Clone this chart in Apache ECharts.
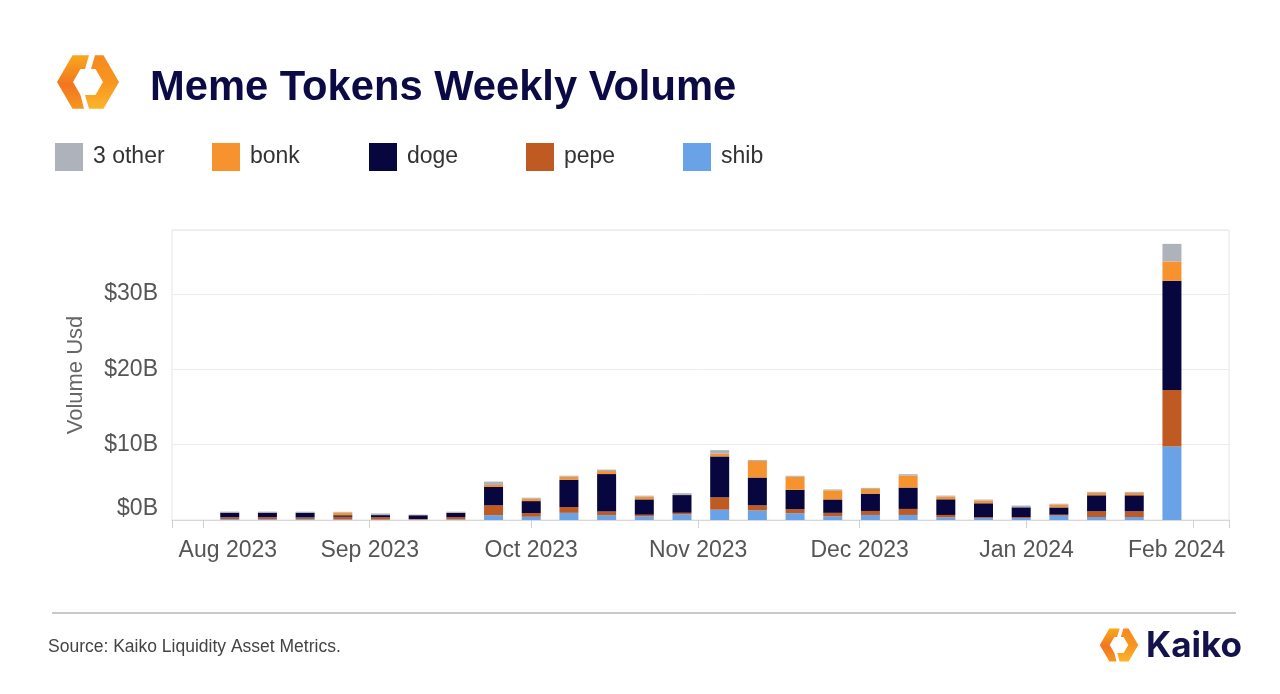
<!DOCTYPE html>
<html>
<head>
<meta charset="utf-8">
<script src="https://cdn.jsdelivr.net/npm/echarts@6/dist/echarts.min.js"></script>
<style>
html,body{margin:0;padding:0;background:#fff;}
#chart{width:1280px;height:694px;}
</style>
</head>
<body>
<div id="chart"></div>
<script>
// ---- data ----
const weeks = ['2023-08-06','2023-08-13','2023-08-20','2023-08-27','2023-09-03','2023-09-10','2023-09-17',
  '2023-09-24','2023-10-01','2023-10-08','2023-10-15','2023-10-22','2023-10-29','2023-11-05','2023-11-12',
  '2023-11-19','2023-11-26','2023-12-03','2023-12-10','2023-12-17','2023-12-24','2023-12-31','2024-01-07',
  '2024-01-14','2024-01-21','2024-01-28'];
const shib  = [0.12,0.12,0.12,0.08,0.05,0.05,0.10, 0.64,0.43,0.95,0.64,0.47,0.73,1.37,1.27,0.90,0.50,0.67,0.67,0.35,0.27,0.27,0.57,0.40,0.40,9.76];
const pepe  = [0.25,0.27,0.22,0.35,0.30,0.08,0.30, 1.30,0.48,0.75,0.49,0.23,0.23,1.64,0.67,0.53,0.45,0.53,0.80,0.32,0.13,0.13,0.13,0.75,0.75,7.50];
const doge  = [0.60,0.58,0.62,0.20,0.30,0.50,0.55, 2.44,1.60,3.65,4.97,2.04,2.35,5.43,3.70,2.58,1.78,2.30,2.84,2.08,1.82,1.28,0.97,2.13,2.13,14.50];
const bonk  = [0.02,0.02,0.02,0.35,0.02,0.02,0.05, 0.27,0.30,0.40,0.40,0.36,0.02,0.36,2.20,1.73,1.20,0.63,1.60,0.36,0.36,0.02,0.36,0.32,0.32,2.56];
const other = [0.12,0.12,0.12,0.10,0.20,0.07,0.10, 0.45,0.15,0.13,0.19,0.13,0.23,0.48,0.13,0.13,0.13,0.13,0.17,0.13,0.13,0.22,0.13,0.13,0.13,2.34];
const seriesNames = ['shib','pepe','doge','bonk','3 other'];
const legendOrder = ['3 other','bonk','doge','pepe','shib'];
const yTicks = [0,10,20,30];
const monthNames = ['Jan','Feb','Mar','Apr','May','Jun','Jul','Aug','Sep','Oct','Nov','Dec'];

const colors = {'shib':'#6aa2e8','pepe':'#bf5a22','doge':'#08063f','bonk':'#f6932f','3 other':'#adb2bb'};
const values = {'shib':shib,'pepe':pepe,'doge':doge,'bonk':bonk,'3 other':other};

const ts = weeks.map(w => Date.parse(w + 'T00:00:00Z'));
const xMin = Date.UTC(2023,6,28,1);
const xMax = Date.UTC(2024,1,5,20);
const DAY = 86400000;
const FONT = 'Liberation Sans, Arial, Helvetica, sans-serif';

const chart = echarts.init(document.getElementById('chart'));

// logo pieces (hexagon split in two)
const leftPiece = [[1,-26.8],[-15.5,-26.8],[-31,0],[-15.5,26.8],[-4,26.8],[-7.5,13],[-15,0],[-7.5,-13],[-3,-13]];
const rightPiece = [[7,-26.8],[15.5,-26.8],[31,0],[15.5,26.8],[1,26.8],[-3,13],[7.5,13],[15,0],[7.5,-13],[3,-13]];
function logo(cx, cy, s) {
  const g1 = new echarts.graphic.LinearGradient(0,0,0,1,[{offset:0,color:'#f9a81d'},{offset:0.55,color:'#f27520'},{offset:1,color:'#f7961f'}]);
  const g2 = new echarts.graphic.LinearGradient(0,0,0,1,[{offset:0,color:'#f68a1f'},{offset:0.5,color:'#f7951f'},{offset:1,color:'#fbb42c'}]);
  return [
    {type:'polygon', x:cx, y:cy, scaleX:s, scaleY:s, shape:{points:leftPiece}, style:{fill:g1}},
    {type:'polygon', x:cx, y:cy, scaleX:s, scaleY:s, shape:{points:rightPiece}, style:{fill:g2}}
  ];
}

const legendLefts = [55,212,369,526,683];

const option = {
  useUTC: true,
  animation: false,
  backgroundColor: '#ffffff',
  title: {
    text: 'Meme Tokens Weekly Volume',
    left: 145, top: 63,
    textStyle: {fontFamily:FONT, fontSize:41.7, fontWeight:'bold', color:'#0b0a45'}
  },
  legend: legendOrder.map((name, i) => ({
    data: [name],
    left: legendLefts[i], top: 143,
    padding: 0,
    icon: 'rect',
    itemWidth: 28, itemHeight: 28,
    textStyle: {fontFamily:FONT, fontSize:23, color:'#333', padding:[8,0,0,5]}
  })),
  grid: {left:172, right:51, top:230, bottom:174, show:true, borderColor:'#e4e4e4', borderWidth:1},
  xAxis: {
    type: 'time',
    min: xMin, max: xMax,
    splitNumber: 7,
    minInterval: 28*DAY,
    axisLine: {lineStyle:{color:'#d8d8d8'}},
    axisTick: {show:true, length:8, lineStyle:{color:'#d0d0d0'}},
    splitLine: {show:false},
    axisLabel: {
      margin: 19,
      fontFamily:FONT, fontSize:23, color:'#555',
      showMinLabel: true, showMaxLabel: true,
      formatter: function (v) {
        const d = new Date(v);
        if (d.getUTCDate() !== 1) return '';
        const s = monthNames[d.getUTCMonth()] + ' ' + d.getUTCFullYear();
        if (v - xMin < 15*DAY) return '{first|' + s + '}';
        if (xMax - v < 15*DAY) return '{last|' + s + '}';
        return s;
      },
      rich: {
        first: {padding:[0,0,0,50], fontFamily:FONT, fontSize:23, color:'#555'},
        last: {padding:[0,34,0,0], fontFamily:FONT, fontSize:23, color:'#555'}
      }
    }
  },
  yAxis: {
    type: 'value',
    min: 0, max: 38.5, interval: 10,
    name: 'Volume Usd',
    nameLocation: 'middle',
    nameRotate: 90,
    nameGap: 85,
    nameTextStyle: {fontFamily:FONT, fontSize:22, color:'#666'},
    axisLine: {show:false},
    axisTick: {show:false},
    splitLine: {lineStyle:{color:'#ececec'}},
    axisLabel: {
      margin: 14,
      fontFamily:FONT, fontSize:23, color:'#555',
      formatter: function (v) {
        if (yTicks.indexOf(v) < 0) return '';
        const s = '$' + v + 'B';
        return v === yTicks[0] ? '{zero|' + s + '}' : s;
      },
      rich: {
        zero: {padding:[0,0,22,0], fontFamily:FONT, fontSize:23, color:'#555'}
      }
    }
  },
  series: seriesNames.map(name => ({
    name: name,
    type: 'bar',
    stack: 'total',
    barWidth: 19,
    itemStyle: {color: colors[name]},
    data: ts.map((t, i) => [t, values[name][i]])
  })),
  graphic: [
    ...logo(88, 82, 1.0),
    {type:'line', shape:{x1:52, y1:613, x2:1236, y2:613}, style:{stroke:'#c9c9c9', lineWidth:2}},
    {type:'text', x:48, y:647, style:{text:'Source: Kaiko Liquidity Asset Metrics.', fontFamily:FONT, fontSize:17.5, fill:'#444', verticalAlign:'middle'}},
    ...logo(1119, 645, 0.62),
    {type:'text', x:1146, y:646, style:{text:'Kaiko', fontFamily:'Inter, Lato, sans-serif', fontWeight:'bold', fontSize:35, fill:'#13124a', verticalAlign:'middle'}}
  ]
};
chart.setOption(option);
</script>
</body>
</html>
